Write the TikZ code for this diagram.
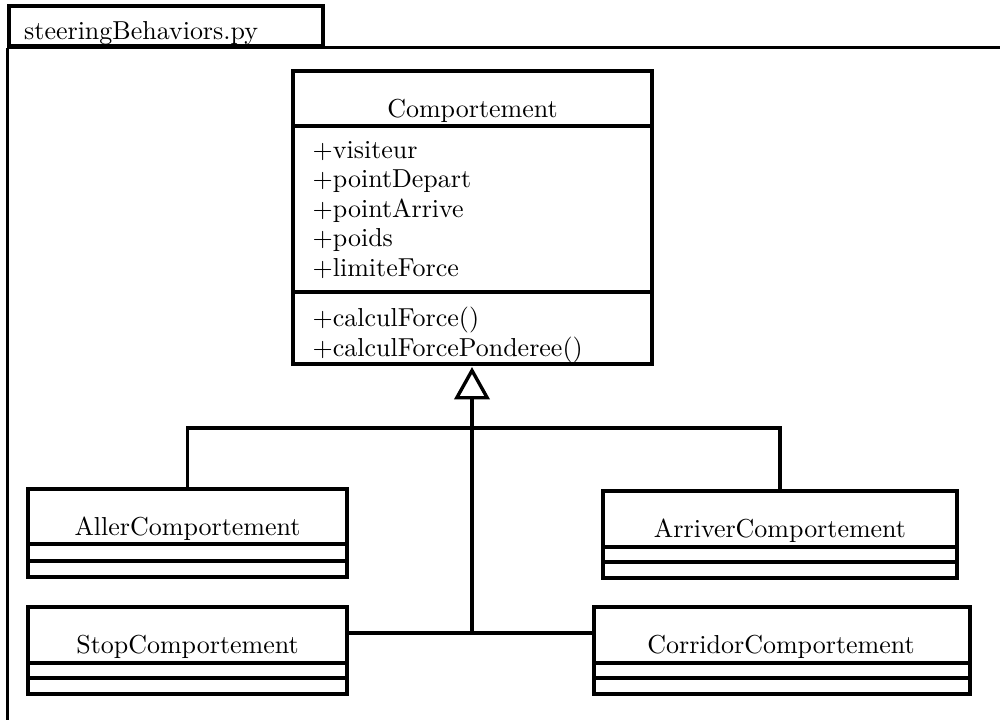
\documentclass[tikz,border=0pt]{standalone}
\usetikzlibrary{arrows.meta,fit}
\begin{document}
\begin{tikzpicture}[x=0.385pt,y=-0.385pt,line width=1.3pt,
  box/.style={draw,inner sep=0pt,fit={#1}},
  lbl/.style={inner sep=0pt,anchor=base},
  attr/.style={inner sep=0pt,anchor=base west},
  gen/.style={-{Triangle[open,length=12.5pt,width=13.6pt]}}]
\useasboundingbox (0,0) rectangle (1000,720);
\clip (0,0) rectangle (1000,720);
% package
\node[box={(9,6) (323,46)}] (tab) {};
\node[attr] (pkgname) at (22.5,40) {steeringBehaviors.py};
\draw (tab.south west) -- ++(0,720);
\draw (tab.south west) -- ++(1040,0);
% Comportement
\node[box={(293,71) (652,364)}] (comp) {};
\draw (comp.west |- 0,126) -- (comp.east |- 0,126);
\draw (comp.west |- 0,292) -- (comp.east |- 0,292);
\node[lbl] (compname) at (472.5,117) {Comportement};
\foreach \t [count=\i] in {visiteur,pointDepart,pointArrive,poids,limiteForce}
  \node[attr] (a\i) at (311,{158+29.5*(\i-1)}) {+\t};
\node[attr] (m1) at (311,327) {+calculForce()};
\node[attr] (m2) at (311,356) {+calculForcePonderee()};
% subclasses
\node[box={(28,489) (347,577)}] (aller) {};
\draw (aller.west |- 0,544) -- (aller.east |- 0,544);
\draw (aller.west |- 0,561) -- (aller.east |- 0,561);
\node[lbl] (allerT) at (187.5,535) {AllerComportement};
\node[box={(603,491) (957,578)}] (arriver) {};
\draw (arriver.west |- 0,547) -- (arriver.east |- 0,547);
\draw (arriver.west |- 0,562) -- (arriver.east |- 0,562);
\node[lbl] (arriverT) at (780,537) {ArriverComportement};
\node[box={(28,607) (347,694)}] (stop) {};
\draw (stop.west |- 0,663) -- (stop.east |- 0,663);
\draw (stop.west |- 0,678) -- (stop.east |- 0,678);
\node[lbl] (stopT) at (187.5,653) {StopComportement};
\node[box={(594,607) (970,694)}] (corr) {};
\draw (corr.west |- 0,663) -- (corr.east |- 0,663);
\draw (corr.west |- 0,678) -- (corr.east |- 0,678);
\node[lbl] (corrT) at (781,653) {CorridorComportement};
% connectors
\coordinate (hub) at (472,633);
\coordinate (bar) at (472,428);
\coordinate (apex) at (472,367);
\draw (stop.east |- hub) -- (corr.west |- hub);
\draw[gen] (hub) -- (apex);
\draw (aller.north) |- (bar) -| (arriver.north);
\end{tikzpicture}
\end{document}
